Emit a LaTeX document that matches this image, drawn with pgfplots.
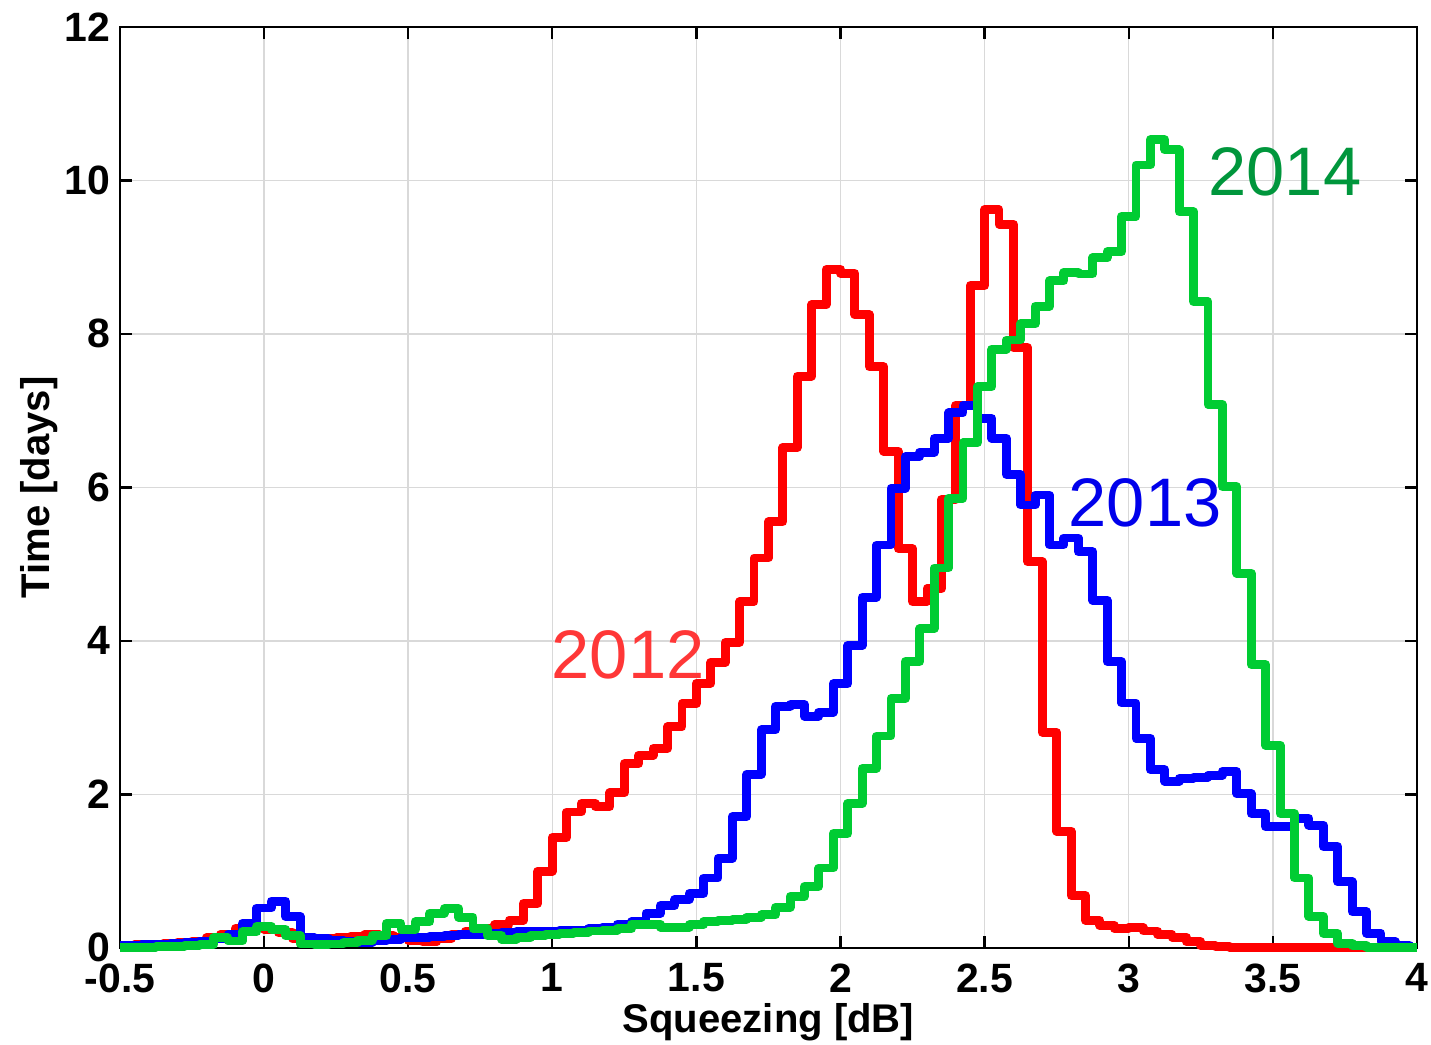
\documentclass[border=0pt]{standalone}
\usepackage{pgfplots}
\pgfplotsset{compat=1.18}
\usepackage{fontspec}
\setmainfont{Liberation Sans}
\definecolor{cred}{RGB}{255,0,0}
\definecolor{cblue}{RGB}{0,0,255}
\definecolor{cgreen}{RGB}{0,204,51}
\definecolor{tred}{RGB}{255,55,55}
\definecolor{tblue}{RGB}{0,0,235}
\definecolor{tgreen}{RGB}{0,150,60}
\begin{document}
\begin{tikzpicture}
\begin{axis}[
  scale only axis, width=453.2pt, height=321.8pt,
  xmin=-0.5, xmax=4, ymin=0, ymax=12,
  xtick={-0.5,0,0.5,1,1.5,2,2.5,3,3.5,4},
  xticklabels={-0.5,0,0.5,1,1.5,2,2.5,3,3.5,4},
  ytick={0,2,4,6,8,10,12},
  yticklabels={0,2,4,6,8,10,12},
  tick align=inside, tick pos=both, major tick length=4.2pt,
  grid=major, grid style={gray!30, line width=0.5pt},
  axis line style={line width=0.9pt},
  every tick/.style={black, line width=0.8pt},
  tick label style={font=\bfseries\fontsize{14.3}{16}\selectfont},
  xticklabel style={yshift=-2pt},
  label style={font=\bfseries\fontsize{14}{16}\selectfont},
  xlabel={Squeezing [dB]}, ylabel={Time [days]},
  xlabel style={at={(axis description cs:0.5,-0.0923)}, anchor=base},
  ylabel style={at={(axis description cs:-0.0541,0.5)}, anchor=base},
  clip=false,
  every axis plot/.append style={const plot, line width=3.1pt, line join=round, mark=none},
]
% 2012
\addplot[cred] coordinates {
(-0.50,0.03)(-0.45,0.04)(-0.40,0.05)(-0.35,0.06)(-0.30,0.07)(-0.25,0.09)(-0.20,0.13)(-0.15,0.18)(-0.10,0.25)(-0.05,0.27)
(0.00,0.24)(0.05,0.20)(0.10,0.12)(0.15,0.11)(0.20,0.12)(0.25,0.13)(0.30,0.15)(0.35,0.17)(0.40,0.16)(0.45,0.13)
(0.50,0.10)(0.55,0.08)(0.60,0.12)(0.65,0.18)(0.70,0.22)(0.75,0.25)(0.80,0.30)(0.85,0.36)(0.90,0.58)(0.95,1.00)
(1.00,1.44)(1.05,1.77)(1.10,1.88)(1.15,1.84)(1.20,2.02)(1.25,2.40)(1.30,2.51)(1.35,2.60)(1.40,2.88)(1.45,3.18)
(1.50,3.45)(1.55,3.72)(1.60,3.98)(1.65,4.51)(1.70,5.08)(1.75,5.55)(1.80,6.52)(1.85,7.45)(1.90,8.38)(1.95,8.84)
(2.00,8.79)(2.05,8.25)(2.10,7.57)(2.15,6.47)(2.20,5.20)(2.25,4.51)(2.30,4.68)(2.35,5.84)(2.40,7.07)(2.45,8.63)
(2.50,9.62)(2.55,9.43)(2.60,7.82)(2.65,5.03)(2.70,2.81)(2.75,1.52)(2.80,0.68)(2.85,0.36)(2.90,0.29)(2.95,0.25)
(3.00,0.26)(3.05,0.22)(3.10,0.18)(3.15,0.14)(3.20,0.08)(3.25,0.03)(3.30,0.02)(3.35,0.01)(3.40,0.01)(3.45,0.01)
(3.50,0.01)(3.55,0.01)(3.60,0.01)(3.65,0.01)(3.70,0.01)(3.75,0.01)(3.80,0.01)(3.85,0.01)(3.90,0.01)(3.95,0.01)(4.00,0.01)
};
% 2013
\addplot[cblue] coordinates {
(-0.5,0.03)(-0.475,0.03)(-0.425,0.04)(-0.375,0.05)(-0.325,0.06)(-0.275,0.07)(-0.225,0.09)(-0.175,0.12)(-0.125,0.18)(-0.075,0.32)
(-0.025,0.52)(0.025,0.61)(0.075,0.41)(0.125,0.13)(0.175,0.12)(0.225,0.10)(0.275,0.08)(0.325,0.07)(0.375,0.09)(0.425,0.11)
(0.475,0.13)(0.525,0.14)(0.575,0.15)(0.625,0.16)(0.675,0.17)(0.725,0.18)(0.775,0.19)(0.825,0.20)(0.875,0.21)(0.925,0.22)
(0.975,0.22)(1.025,0.23)(1.075,0.23)(1.125,0.25)(1.175,0.27)(1.225,0.31)(1.275,0.34)(1.325,0.45)(1.375,0.55)(1.425,0.63)
(1.475,0.71)(1.525,0.91)(1.575,1.17)(1.625,1.71)(1.675,2.26)(1.725,2.84)(1.775,3.15)(1.825,3.17)(1.875,3.02)(1.925,3.07)
(1.975,3.44)(2.025,3.94)(2.075,4.57)(2.125,5.25)(2.175,5.99)(2.225,6.40)(2.275,6.46)(2.325,6.64)(2.375,6.97)(2.425,7.07)
(2.475,6.90)(2.525,6.64)(2.575,6.17)(2.625,5.77)(2.675,5.90)(2.725,5.25)(2.775,5.34)(2.825,5.16)(2.875,4.53)(2.925,3.73)
(2.975,3.19)(3.025,2.73)(3.075,2.32)(3.125,2.17)(3.175,2.21)(3.225,2.22)(3.275,2.25)(3.325,2.30)(3.375,2.01)(3.425,1.75)
(3.475,1.58)(3.525,1.58)(3.575,1.69)(3.625,1.60)(3.675,1.32)(3.725,0.86)(3.775,0.47)(3.825,0.19)(3.875,0.08)(3.925,0.03)
(3.975,0.01)(4.0,0.01)
};
% 2014
\addplot[cgreen] coordinates {
(-0.5,0.00)(-0.475,0.01)(-0.425,0.01)(-0.375,0.02)(-0.325,0.02)(-0.275,0.03)(-0.225,0.04)(-0.175,0.13)(-0.125,0.09)(-0.075,0.21)
(-0.025,0.28)(0.025,0.24)(0.075,0.16)(0.125,0.05)(0.175,0.04)(0.225,0.05)(0.275,0.07)(0.325,0.10)(0.375,0.16)(0.425,0.32)
(0.475,0.24)(0.525,0.34)(0.575,0.45)(0.625,0.51)(0.675,0.40)(0.725,0.25)(0.775,0.16)(0.825,0.11)(0.875,0.13)(0.925,0.16)
(0.975,0.18)(1.025,0.19)(1.075,0.20)(1.125,0.22)(1.175,0.23)(1.225,0.25)(1.275,0.31)(1.325,0.31)(1.375,0.27)(1.425,0.27)
(1.475,0.30)(1.525,0.34)(1.575,0.36)(1.625,0.37)(1.675,0.40)(1.725,0.43)(1.775,0.53)(1.825,0.67)(1.875,0.80)(1.925,1.04)
(1.975,1.49)(2.025,1.88)(2.075,2.34)(2.125,2.76)(2.175,3.25)(2.225,3.73)(2.275,4.16)(2.325,4.95)(2.375,5.86)(2.425,6.58)
(2.475,7.31)(2.525,7.80)(2.575,7.92)(2.625,8.13)(2.675,8.36)(2.725,8.69)(2.775,8.80)(2.825,8.78)(2.875,8.99)(2.925,9.07)
(2.975,9.53)(3.025,10.20)(3.075,10.53)(3.125,10.40)(3.175,9.59)(3.225,8.42)(3.275,7.08)(3.325,6.01)(3.375,4.88)(3.425,3.69)
(3.475,2.64)(3.525,1.75)(3.575,0.91)(3.625,0.41)(3.675,0.19)(3.725,0.06)(3.775,0.03)(3.825,0.01)(3.875,0.00)(4.0,0.00)
};
\node[text=tred, font=\fontsize{24}{28}\selectfont] at (axis cs:1.263,3.82) {2012};
\node[text=tblue, font=\fontsize{24}{28}\selectfont] at (axis cs:3.057,5.80) {2013};
\node[text=tgreen, font=\fontsize{24}{28}\selectfont] at (axis cs:3.542,10.11) {2014};
\end{axis}
\pgfresetboundingbox
\path[use as bounding box] ([xshift=-41.9pt,yshift=-33.9pt]current axis.south west) rectangle ([xshift=4.9pt,yshift=9.4pt]current axis.north east);
\end{tikzpicture}
\end{document}
